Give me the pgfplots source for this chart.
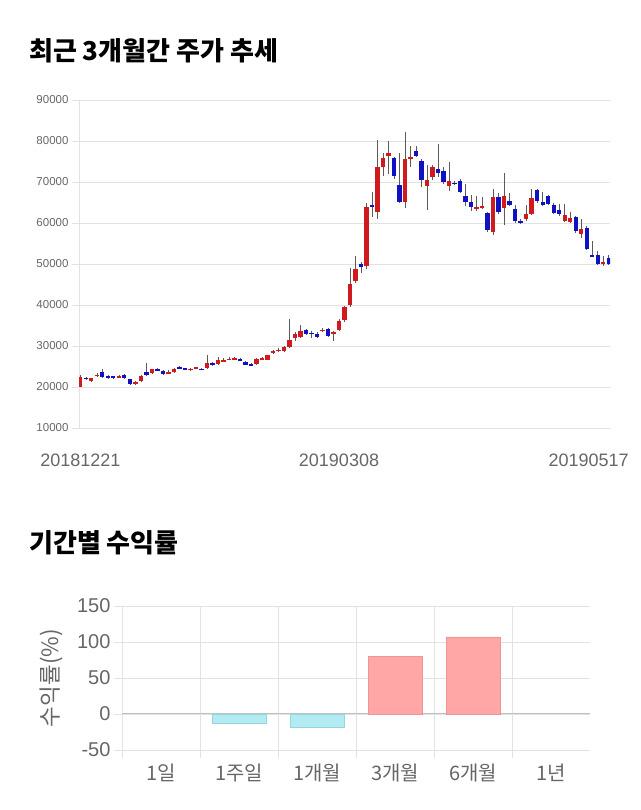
\documentclass[border=0pt]{standalone}
\usepackage{fontspec}
\setmainfont{Liberation Sans}
\newfontfamily\kr{Noto Sans CJK KR}
\usepackage{pgfplots}
\pgfplotsset{compat=1.18}
\usepackage{pgfplotstable}

\definecolor{upred}{RGB}{208,26,30}
\definecolor{dnblue}{RGB}{16,16,196}
\definecolor{wick}{RGB}{90,90,90}
\definecolor{gridc}{RGB}{226,226,226}
\definecolor{tickc}{RGB}{102,102,102}
\definecolor{posfill}{RGB}{255,166,166}
\definecolor{posdraw}{RGB}{236,150,150}
\definecolor{negfill}{RGB}{178,235,242}
\definecolor{negdraw}{RGB}{150,212,222}

\pgfplotstableread{
i o h l c
0 20100 22900 20000 22500
1 22200 22400 21800 22000
2 21500 22300 21200 22100
3 22700 23500 22500 23000
4 23700 24300 22200 22400
5 22700 22900 22000 22400
6 22600 22800 21900 22300
7 22400 23000 22100 22600
8 22900 23100 21900 22100
9 21900 22000 20600 20800
10 20900 21400 20600 21100
11 21400 23000 21300 22800
12 23700 25800 22800 22900
13 23300 24500 23100 24300
14 24400 24600 23800 24000
15 23900 24100 23000 23200
16 23400 24200 23200 23600
17 23600 24600 23400 24300
18 24900 25100 24400 24600
19 24600 24700 24200 24400
20 24200 24700 24000 24500
21 24600 24900 24400 24800
22 24500 24600 24200 24300
23 24600 27800 24400 25900
24 25900 26100 25200 25500
25 25600 27400 25300 26600
26 26300 27000 26100 26500
27 26700 27300 26600 26900
28 26600 27300 26500 27100
29 26900 27100 26300 26500
30 26100 26300 25300 25400
31 25600 25800 25000 25200
32 25500 27100 25400 26800
33 26800 27300 26600 27000
34 26700 27900 26500 27700
35 28200 29000 28000 28800
36 28900 29400 28600 29100
37 28900 30100 28600 29800
38 29800 36500 29500 31500
39 31900 33400 31200 32900
40 32300 35200 32000 33700
41 33900 34200 32700 32900
42 33200 33600 31900 33000
43 33000 33300 32000 32300
44 33800 34500 33300 34000
45 34100 34400 32300 32500
46 33100 33600 31100 33400
47 33800 36500 33600 36100
48 36400 39800 35900 39400
49 40000 49100 39600 45100
50 45900 51900 45300 48800
51 50000 50500 47800 49200
52 49600 64800 48900 64000
53 64300 67600 61500 63900
54 62600 80300 61000 73600
55 73600 77000 71500 75800
56 76300 80000 71900 77100
57 75800 76200 70700 71400
58 69200 77000 64900 65100
59 65100 82300 63700 75600
60 75600 78800 73600 76100
61 77500 78900 76000 76400
62 75000 75500 68700 70500
63 69100 74100 63200 70400
64 71200 74100 70400 73600
65 73100 79300 71300 72200
66 72600 73700 69600 70100
67 69100 75000 67800 70300
68 69800 70300 69300 69600
69 70300 70700 67200 67500
70 66500 69600 64100 65000
71 65000 66900 63000 63800
72 63300 66500 63000 64000
73 63900 66300 63400 64100
74 62400 62800 57800 58300
75 57700 68300 57000 66300
76 66300 67300 62200 62800
77 63600 72200 59600 66600
78 65300 67300 64100 64400
79 63500 64300 60100 60400
80 60500 60900 59800 60100
81 61000 64400 60600 62100
82 62200 68300 62000 66100
83 68000 68400 64800 65300
84 65000 67500 64200 64400
85 66600 66900 64500 64700
86 64400 64800 62200 62500
87 63100 64600 61800 62100
88 60600 64600 60300 62000
89 60300 62800 60100 61100
90 61400 61800 57600 58000
91 57400 61000 56400 58600
92 58700 59200 53300 53600
93 52100 55600 51600 51900
94 52200 53200 49800 50000
95 50000 52000 49500 50400
96 51400 52300 49800 50000
}\candles

\pgfplotstableread{
x y
1 -13
2 -18
}\negret

\pgfplotstableread{
x y
3 80
4 107
}\posret

\begin{document}
\begin{tikzpicture}
\path[use as bounding box] (0,0) rectangle (640pt,810pt);

\node[anchor=west, inner sep=0pt, font=\kr\bfseries\fontsize{26}{30}\selectfont] at (29pt,759pt) {최근 3개월간 주가 추세};
\node[anchor=west, inner sep=0pt, font=\kr\bfseries\fontsize{26}{30}\selectfont] at (29pt,267pt) {기간별 수익률};

% ---------- candlestick chart ----------
\begin{axis}[
  at={(79pt,382pt)}, anchor=south west,
  scale only axis, width=531pt, height=328pt,
  xmin=-0.25, xmax=96.25, ymin=10000, ymax=90000,
  axis x line*=bottom, axis y line*=left,
  x axis line style={draw=none},
  y axis line style={draw=gridc, line width=0.8pt},
  ytick={10000,20000,...,90000},
  xtick={0,47,96},
  xticklabels={20181221,20190308,\hspace*{-40pt}20190517},
  xtick style={draw=none},
  ytick style={draw=gridc, line width=0.8pt},
  tick align=outside, major tick length=7pt,
  ymajorgrids, major grid style={draw=gridc, line width=0.8pt},
  scaled y ticks=false,
  /pgf/number format/.cd, 1000 sep={}, assume math mode=true, /pgfplots/.cd,
  yticklabel style={font=\fontsize{11.5}{13}\selectfont, text=tickc},
  xticklabel style={font=\fontsize{18}{20}\selectfont, text=tickc, yshift=-15pt},
  clip=true,
]
% wicks
\addplot[draw=none, forget plot,
  error bars/.cd, y dir=both, y explicit, error mark=none,
  error bar style={draw=wick, line width=0.75pt}]
  table[x=i, y expr={(\thisrow{h}+\thisrow{l})/2}, y error expr={(\thisrow{h}-\thisrow{l})/2}] {\candles};
% up bodies
\addplot[draw=none, forget plot,
  restrict expr to domain={\thisrow{c}-\thisrow{o}}{0:1000000},
  error bars/.cd, y dir=both, y explicit, error mark=none,
  error bar style={draw=upred, line width=4.2pt}]
  table[x=i, y expr={(\thisrow{o}+\thisrow{c})/2}, y error expr={abs(\thisrow{c}-\thisrow{o})/2}] {\candles};
% down bodies
\addplot[draw=none, forget plot,
  restrict expr to domain={\thisrow{c}-\thisrow{o}}{-1000000:-1},
  error bars/.cd, y dir=both, y explicit, error mark=none,
  error bar style={draw=dnblue, line width=4.2pt}]
  table[x=i, y expr={(\thisrow{o}+\thisrow{c})/2}, y error expr={abs(\thisrow{c}-\thisrow{o})/2}] {\candles};
\end{axis}

% ---------- returns chart ----------
\begin{axis}[
  at={(122pt,60pt)}, anchor=south west,
  scale only axis, width=468pt, height=144pt,
  xmin=-0.5, xmax=5.5, ymin=-50, ymax=150,
  axis line style={draw=none},
  ytick={-50,0,50,100,150},
  xtick={0,...,5},
  xticklabels={1일,1주일,1개월,3개월,6개월,1년},
  minor xtick={-0.5,0.5,...,4.5},
  xminorgrids, ymajorgrids,
  major grid style={draw=gridc, line width=0.8pt},
  minor grid style={draw=gridc, line width=0.8pt},
  tick align=outside, major tick length=8pt, minor tick length=8pt,
  major x tick style={draw=none},
  minor x tick style={draw=gridc, line width=0.8pt},
  ytick style={draw=gridc, line width=0.8pt},
  xtick pos=bottom, ytick pos=left,
  /pgf/number format/.cd, assume math mode=true, /pgfplots/.cd,
  yticklabel style={font=\fontsize{20}{22}\selectfont, text=tickc},
  xticklabel style={font=\kr\fontsize{20}{22}\selectfont, text=tickc, yshift=-2pt},
  every axis y label/.style={at={(rel axis cs:0,0.5)}, rotate=90, anchor=center, yshift=71pt},
  ylabel={\kr\fontsize{22.5}{24}\selectfont\color{tickc}수익률(\%)},
]
\draw[draw=black!25, line width=1pt] (axis cs:-0.5,0) -- (axis cs:5.5,0);
\addplot[ybar, bar shift=0pt, bar width=0.69, fill=negfill, draw=negdraw, line width=0.8pt] table[x=x, y=y] {\negret};
\addplot[ybar, bar shift=0pt, bar width=0.69, fill=posfill, draw=posdraw, line width=0.8pt] table[x=x, y=y] {\posret};
\end{axis}
\end{tikzpicture}
\end{document}
